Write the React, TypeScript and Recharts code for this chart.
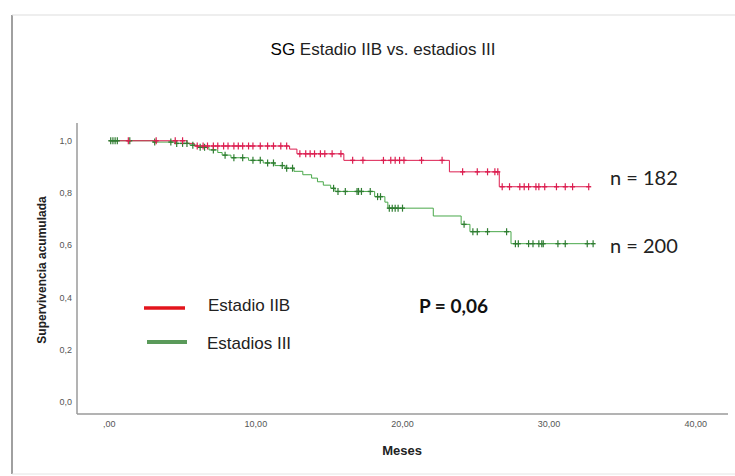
import React from 'react';
import { ComposedChart, Line, XAxis, YAxis } from 'recharts';

const xTicks = [0, 10, 20, 30, 40];
const xTickLabels = [',00', '10,00', '20,00', '30,00', '40,00'];
const yTicks = [0, 0.2, 0.4, 0.6, 0.8, 1.0];
const yTickLabels = ['0,0', '0,2', '0,4', '0,6', '0,8', '1,0'];

const seriesNames = ['Estadio IIB', 'Estadios III'];
const seriesCounts = ['n = 182', 'n = 200'];
const pValueText = 'P = 0,06';
const titleText = 'Estadio IIB vs. estadios III';
const titlePrefix = 'SG';

// Estadio IIB (red)
const redEventTimes = [0, 5.3, 5.8, 12.3, 12.8, 16.0, 23.2, 26.6];
const redEventSurv = [1.0, 0.99, 0.98, 0.968, 0.95, 0.925, 0.881, 0.824];
const redCensorTimes = [
  1.3, 3.2, 4.5, 5.0, 6.0, 6.4, 6.7, 7.1, 7.4, 7.8, 8.1, 8.5, 8.8, 9.1, 9.5, 9.8, 10.3, 10.8, 11.2, 11.7,
  12.1, 13.0, 13.4, 13.7, 14.0, 14.4, 14.7, 15.2, 15.8, 16.6, 17.3, 18.7, 19.2, 19.5, 19.8, 20.1, 21.3, 22.7,
  24.1, 25.1, 25.8, 26.3, 26.5, 26.8, 27.3, 28.0, 28.3, 28.6, 29.1, 29.3, 29.7, 30.5, 31.1, 31.6, 32.7,
];

// Estadios III (green)
const greenEventTimes = [
  0, 3.0, 4.5, 5.5, 6.0, 6.8, 7.4, 7.7, 8.3, 9.5, 10.5, 11.3, 12.0, 12.6, 13.2, 13.8, 14.2, 14.6, 15.1, 15.4,
  18.1, 18.8, 19.0, 22.1, 24.0, 24.6, 27.4,
];
const greenEventSurv = [
  1.0, 0.995, 0.99, 0.983, 0.975, 0.965, 0.955, 0.945, 0.935, 0.925, 0.915, 0.905, 0.895, 0.883, 0.87, 0.857,
  0.843, 0.83, 0.818, 0.806, 0.786, 0.765, 0.742, 0.712, 0.68, 0.652, 0.606,
];
const greenCensorTimes = [
  0.1, 0.25, 0.4, 0.55, 1.4, 3.1, 4.2, 4.6, 5.0, 5.3, 5.7, 6.2, 6.5, 7.1, 7.9, 8.5, 9.1, 9.8, 10.3, 10.8, 11.2,
  11.8, 12.1, 12.5, 15.3, 15.6, 16.1, 16.9, 17.0, 17.2, 17.8, 18.3, 18.5, 19.1, 19.3, 19.5, 19.7, 20.0, 24.2,
  24.8, 25.1, 25.8, 27.1, 27.7, 27.9, 28.6, 28.9, 29.3, 29.5, 29.6, 30.6, 31.1, 32.6, 33.0,
];

type Pt = { t: number; s: number; c: boolean };

function buildSeries(times: number[], surv: number[], censor: number[]): Pt[] {
  const survAt = (t: number) => {
    let s = surv[0];
    for (let i = 0; i < times.length; i++) if (times[i] <= t) s = surv[i];
    return s;
  };
  const pts: Pt[] = times.map((t, i) => ({ t, s: surv[i], c: false }));
  censor.forEach((t) => pts.push({ t, s: survAt(t), c: true }));
  pts.sort((a, b) => a.t - b.t);
  return pts;
}

const redData = buildSeries(redEventTimes, redEventSurv, redCensorTimes);
const greenData = buildSeries(greenEventTimes, greenEventSurv, greenCensorTimes);

const RED = '#dc1e50';
const GREEN_LINE = '#49a84a';
const GREEN_MARK = '#2f7d32';

const makeDot = (color: string) => (props: any) => {
  const { cx, cy, payload, index } = props;
  if (!payload || !payload.c) return <g key={`d-${index}`} />;
  return (
    <g key={`d-${index}`}>
      <line x1={cx} x2={cx} y1={cy - 3.5} y2={cy + 3.5} stroke={color} strokeWidth={1.2} />
      <line x1={cx - 2.5} x2={cx + 2.5} y1={cy} y2={cy} stroke={color} strokeWidth={1.4} />
    </g>
  );
};

const tickStyle = { fontSize: 9, fill: '#555', fontFamily: 'Liberation Sans, Arial, sans-serif' };

export default function App() {
  return (
    <div style={{ position: 'absolute', left: 0, top: 0, width: 735, height: 476, background: '#fff' }}>
      <ComposedChart
        width={735}
        height={476}
        margin={{ top: 123, right: 7, bottom: 0, left: 37 }}
      >
        <XAxis
          dataKey="t"
          type="number"
          domain={[-2.2, 42.2]}
          allowDataOverflow
          ticks={xTicks}
          tickFormatter={(v: number) => xTickLabels[xTicks.indexOf(v)] ?? ''}
          tickLine={false}
          tickSize={0}
          tickMargin={7}
          axisLine={{ stroke: '#9a9a9a', strokeWidth: 1.5 }}
          tick={tickStyle}
          height={62}
        />
        <YAxis
          type="number"
          domain={[-0.046, 1.068]}
          allowDataOverflow
          ticks={yTicks}
          tickFormatter={(v: number) => yTickLabels[yTicks.findIndex((y) => Math.abs(y - v) < 1e-9)] ?? ''}
          tickLine={false}
          tickSize={0}
          tickMargin={5}
          axisLine={{ stroke: '#9a9a9a', strokeWidth: 1.5 }}
          tick={tickStyle}
          width={40}
        />
        <Line
          data={greenData}
          dataKey="s"
          type="stepAfter"
          stroke={GREEN_LINE}
          strokeWidth={1}
          dot={makeDot(GREEN_MARK)}
          activeDot={false}
          isAnimationActive={false}
        />
        <Line
          data={redData}
          dataKey="s"
          type="stepAfter"
          stroke={RED}
          strokeWidth={1}
          dot={makeDot(RED)}
          activeDot={false}
          isAnimationActive={false}
        />
      </ComposedChart>
      <svg
        width={735}
        height={476}
        style={{ position: 'absolute', left: 0, top: 0, pointerEvents: 'none' }}
      >
        <line x1={12} y1={15} x2={12} y2={474} stroke="#a0a0a0" strokeWidth={2} />
        <line x1={12} y1={15} x2={735} y2={15} stroke="#dddddd" strokeWidth={1} />
        <line x1={12} y1={474} x2={735} y2={474} stroke="#e4e4e4" strokeWidth={1} />
        <text
          x={383}
          y={49}
          textAnchor="middle"
          dominantBaseline="central"
          fontFamily="Liberation Sans, Arial, sans-serif"
          fontSize={17}
          fill="#222"
        >
          <tspan fill="#000">{titlePrefix}</tspan> {titleText}
        </text>
        <text
          x={42}
          y={270}
          transform="rotate(-90 42 270)"
          textAnchor="middle"
          dominantBaseline="central"
          fontFamily="Liberation Sans, Arial, sans-serif"
          fontSize={12}
          fontWeight="bold"
          fill="#222"
        >
          Supervivencia acumulada
        </text>
        <text
          x={402}
          y={450}
          textAnchor="middle"
          dominantBaseline="central"
          fontFamily="Liberation Sans, Arial, sans-serif"
          fontSize={13}
          fontWeight="bold"
          fill="#222"
        >
          Meses
        </text>
        <line x1={144} x2={185} y1={308} y2={308} stroke="#e3141c" strokeWidth={3.5} />
        <line x1={147} x2={187} y1={342} y2={342} stroke="#5a9a5a" strokeWidth={4} />
        <text x={208} y={305} dominantBaseline="central" fontFamily="Liberation Sans, Arial, sans-serif" fontSize={17} fill="#222">
          {seriesNames[0]}
        </text>
        <text x={207} y={343} dominantBaseline="central" fontFamily="Liberation Sans, Arial, sans-serif" fontSize={17} fill="#222">
          {seriesNames[1]}
        </text>
        <text x={419} y={305} dominantBaseline="central" fontFamily="Lato, sans-serif" fontSize={19} fontWeight="bold" fill="#111">
          {pValueText}
        </text>
        <text x={610} y={177} dominantBaseline="central" fontFamily="Lato, sans-serif" fontSize={20} fill="#222">
          {seriesCounts[0]}
        </text>
        <text x={610} y={245} dominantBaseline="central" fontFamily="Lato, sans-serif" fontSize={20} fill="#222">
          {seriesCounts[1]}
        </text>
      </svg>
    </div>
  );
}
